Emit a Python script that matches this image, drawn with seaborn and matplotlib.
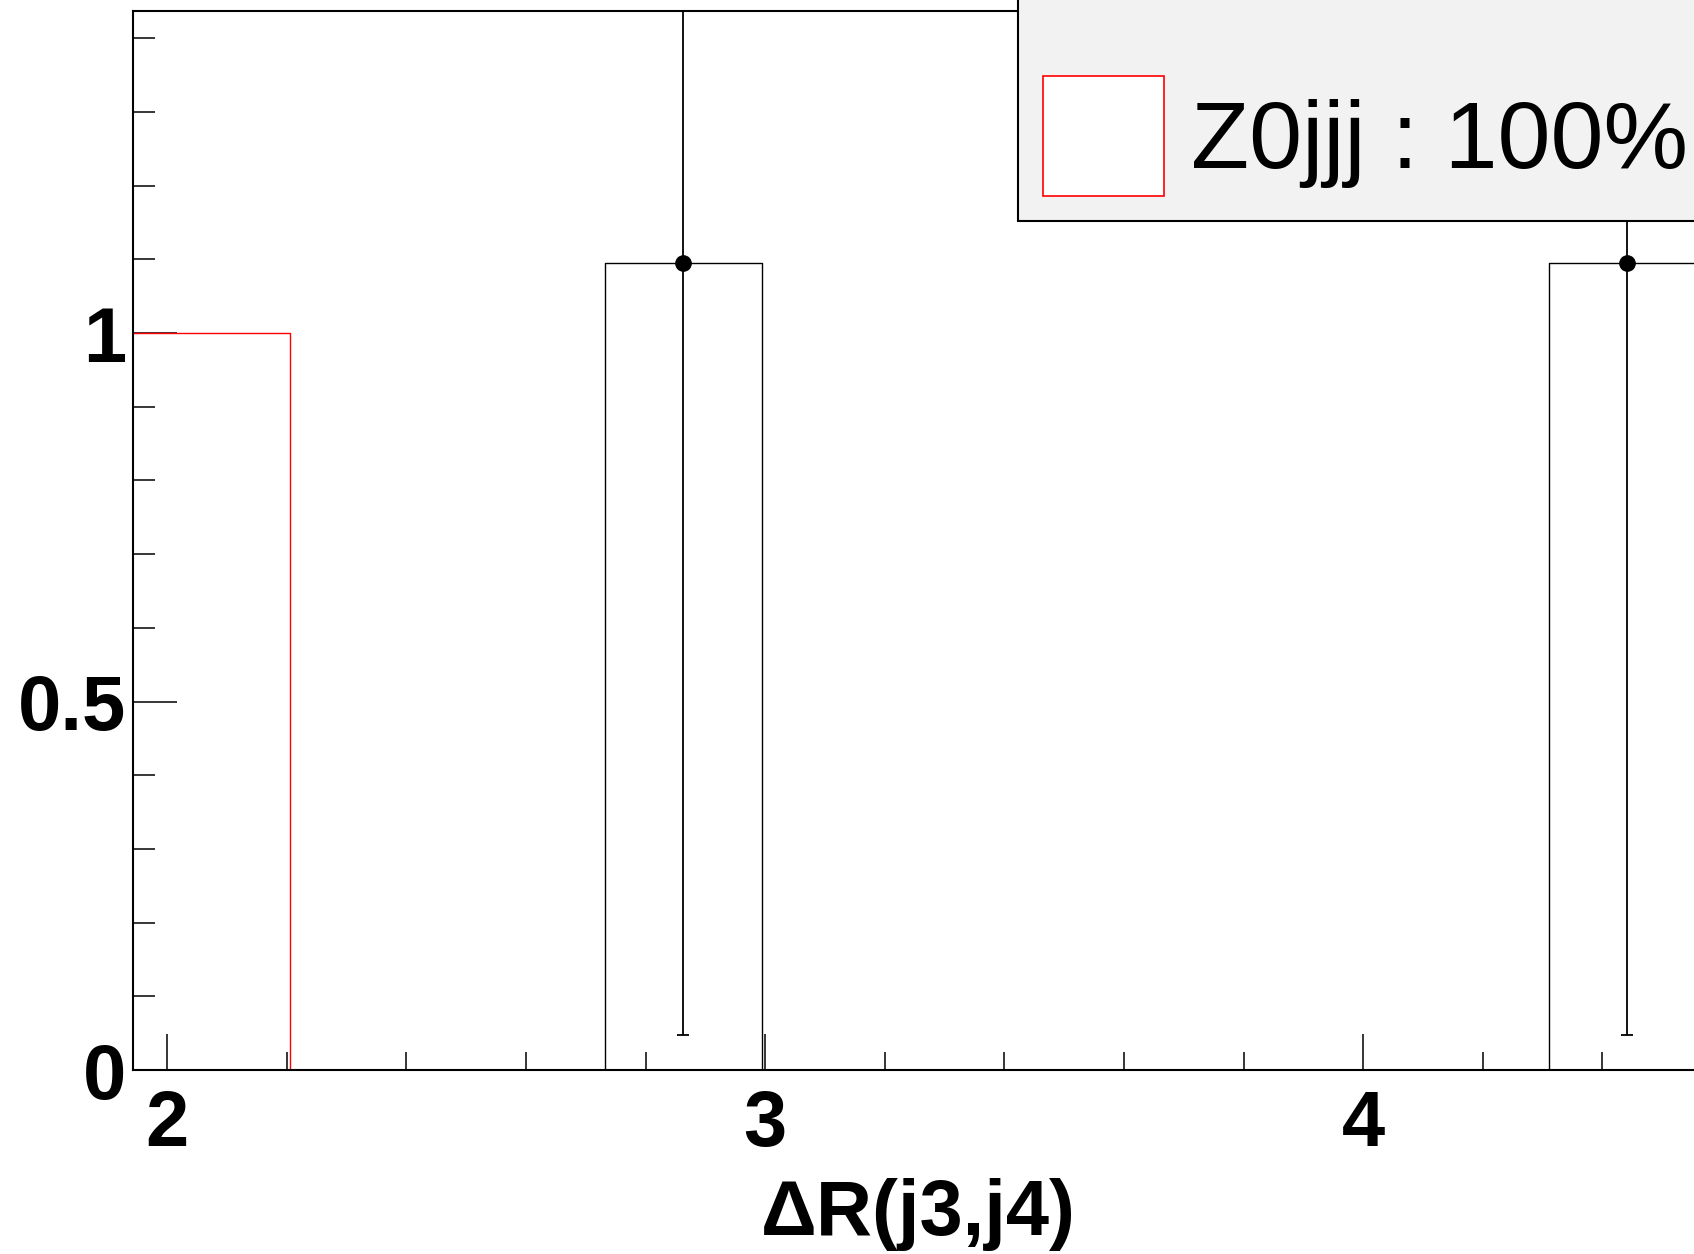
import numpy as np
import pandas as pd
import matplotlib
matplotlib.use("Agg")
import matplotlib.pyplot as plt
from matplotlib.patches import Patch
from matplotlib.ticker import MultipleLocator
import seaborn as sns

# ==========================================
# data
# ==========================================
bin_edges = [1.943, 2.206, 2.469, 2.732, 2.995, 3.258, 3.521,
             3.784, 4.047, 4.310, 4.573, 4.836, 5.099]
z0jjj_counts = [1, 0, 0, 0, 0, 0, 0, 0, 0, 0, 0, 0]
data_counts = [0, 0, 0, 1.095, 0, 0, 0, 0, 0, 1.095, 0, 0]
data_errors = [0, 0, 0, 1.047, 0, 0, 0, 0, 0, 1.047, 0, 0]

legend_label = "Z0jjj : 100%"
x_title = "ΔR(j3,j4)"
x_ticks = [2, 3, 4]
x_tick_labels = ["2", "3", "4"]
y_ticks = [0, 0.5, 1]
y_tick_labels = ["0", "0.5", "1"]

# ==========================================
# style (ROOT look: pure black text and frame)
# ==========================================
sns.set_style("ticks")
plt.rcParams["font.family"] = ["Liberation Sans", "DejaVu Sans"]
for k in ["text.color", "axes.edgecolor", "axes.labelcolor",
          "xtick.color", "ytick.color"]:
    plt.rcParams[k] = "black"

W, H = 1694, 1254
fig = plt.figure(figsize=(W / 100, H / 100), dpi=100)
fig.patch.set_facecolor("white")

# axes runs off the right edge of the picture (cropped canvas)
ax = fig.add_axes([133 / W, 1 - 1070 / H, (2021 - 133) / W, (1070 - 11) / H])

edges = np.array(bin_edges)
centers = 0.5 * (edges[:-1] + edges[1:])
df = pd.DataFrame({"x": centers, "z0jjj": z0jjj_counts,
                   "data": data_counts, "err": data_errors})

sns.histplot(data=df, x="x", weights="data", bins=list(bin_edges), element="step",
             fill=False, color="black", linewidth=1.0, ax=ax)
sns.histplot(data=df, x="x", weights="z0jjj", bins=list(bin_edges), element="step",
             fill=False, color="red", linewidth=1.0, ax=ax)

pts = df[df["data"] > 0]
ax.errorbar(pts["x"], pts["data"], yerr=pts["err"], fmt="o", color="black",
            ms=11, elinewidth=1.3, capsize=4, capthick=1.3, zorder=5)

ax.set_xlim(bin_edges[0], 5.1)
ax.set_ylim(0, 1.437)
ax.set_xlabel("")
ax.set_ylabel("")

for s in ax.spines.values():
    s.set_linewidth(1.5)
    s.set_color("black")

ax.set_xticks(x_ticks, labels=x_tick_labels, fontsize=56, fontweight="bold")
ax.set_yticks(y_ticks, labels=y_tick_labels, fontsize=56, fontweight="bold")
ax.xaxis.set_minor_locator(MultipleLocator(0.2))
ax.yaxis.set_minor_locator(MultipleLocator(0.1))
ax.tick_params(axis="x", which="major", direction="in", length=26, width=1.1, pad=14)
ax.tick_params(axis="x", which="minor", direction="in", length=13, width=1.1)
ax.tick_params(axis="y", which="major", direction="in", length=32, width=1.1, pad=5)
ax.tick_params(axis="y", which="minor", direction="in", length=16, width=1.1)
ax.tick_params(top=False, right=False, which="both")

fig.text(918 / W, 19 / H, x_title, ha="center", va="baseline",
         fontsize=56, fontweight="bold")

# legend box (top part is outside the cropped canvas)
handles = [Patch(facecolor="none", edgecolor="none", label=" "),
           Patch(facecolor="white", edgecolor="red", linewidth=1.2, label=legend_label)]
leg = fig.legend(handles=handles, loc="lower left", bbox_to_anchor=(1018 / W, 1 - 221 / H),
                 fontsize=68.5, frameon=True, fancybox=False, shadow=False, framealpha=1,
                 facecolor="#f2f2f2", edgecolor="black", borderpad=0.26,
                 handlelength=1.27, handleheight=1.56, handletextpad=0.29,
                 labelspacing=0.7, borderaxespad=0)
leg.get_frame().set_linewidth(1.5)

plt.savefig("out.png", dpi=100)
